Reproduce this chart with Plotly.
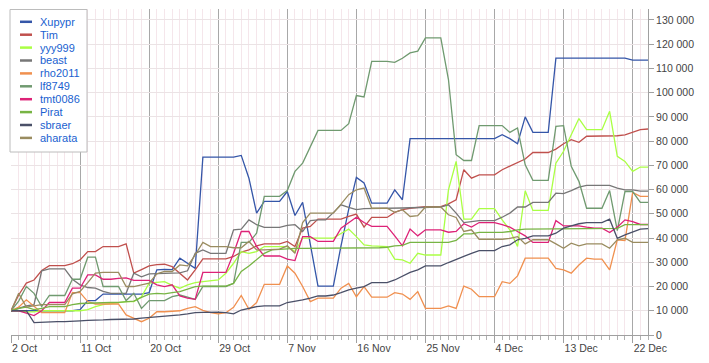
import pandas as pd
import plotly.graph_objects as go

# dates: daily from 2 Oct to 24 Dec
dates = pd.date_range("2012-10-02", "2012-12-24", freq="D")

# values in thousands
xupypr = [10,10,10,10,10,10,10,10,10,10.5,
          14.2,14.2,16.9,16.9,16.9,16.9,16.9,16.9,17.5,26.9,
          27.1,27,31.7,29.5,27.5,73.4,73.4,73.4,73.4,73.4,
          74.1,64.7,50.3,55.1,55.1,55.1,59.2,49.3,54.7,37,
          20.2,20.2,20.2,36.8,51.8,65,62.7,54.4,54.4,54.4,
          59.9,55.8,81,81,81,81,81,81,81,81,
          81,81,81,81,82.6,81,78.9,90,83.6,83.6,
          83.6,114.2,114.2,114.2,114.2,114.2,114.2,114.2,114.2,114.2,
          114.2,113.4,113.4,113.4]
tim = [10,16.5,21.4,22.7,26.6,28.6,28.6,28.6,29.4,31,
       34.4,34.4,36.5,36.5,36.5,37.6,25.5,27,28.5,29,
       29.2,28.2,25.5,22.7,26.9,31.4,31.4,31.4,31.4,32.4,
       34.2,35.1,36.8,37.6,37.6,37.6,38.6,36.5,44.1,44.8,
       47.8,47.8,47.8,47.8,48.9,49.9,44.5,48.5,48.5,48.5,
       50.6,51.7,52.3,52.8,53,53,53,54.1,55.8,68.2,
       64.7,66.1,66.1,66.1,68.2,69.6,70.9,72.6,75.3,75.3,
       75.3,76.7,78.9,80.6,79.5,82,82,82,82,82.2,
       82.6,83.6,84.7,85]
yyy999 = [10,10,9.5,9.5,10,10,10,10,10,10,
          10.5,11.7,12.5,13,13.5,13.8,13.8,15.8,21.4,21.8,
          22,20.5,19.3,20.7,21.6,22,22.5,22.7,25.5,29.6,
          34.4,33.7,34.4,36.5,36.5,36.5,36.5,34.4,40,40,
          40,40,40,41.9,43.7,40.6,37.2,36.8,36.5,36.5,
          31.3,31,29.6,33.7,33,33,33,59.9,71.6,47.8,
          47.8,52.1,52.1,52.1,47.5,43.4,36.5,59.5,51.4,51.4,
          51.4,70.9,75.8,82.6,89.3,84.7,84.7,84.7,92.3,73.7,
          71.6,67.5,69.3,69.3]
beast = [10,11,12,12.5,26.5,27.3,27.3,27.3,23,20.7,
         19.6,19.3,18,17.2,17.2,17.2,25.5,24,25.2,25.2,
         25.2,25.5,25.6,26.5,33.7,35.1,33.7,33.7,33.7,43.4,
         43.7,47.5,45.5,44.4,44.4,44.4,45.2,45.5,42.7,47.2,
         47.5,47.5,50.5,53.7,52.7,51.7,52.1,52.1,52.1,52.3,
         52.3,52.4,52.5,52.6,52.8,52.8,52.8,53.7,50.3,46.4,
         46.8,47.2,47.2,47.2,48.6,50.3,52.8,52.8,54.7,54.7,
         54.7,58.5,58.3,59.6,61,61.7,61.7,61.7,61.7,60.6,
         59.9,59.9,59.4,59.4]
rho2011 = [10,11.5,14.5,11.7,9.2,9.2,9.2,9.2,17.5,17.5,
           13.8,12.8,12.8,12.8,12.8,8.3,6.9,5.5,6.9,9.6,
           9.6,9.7,10,11,11.7,10.2,9.2,8.7,9.2,11.4,
           16.3,10.6,13.4,20.9,20.9,20.9,28.5,25.5,20,13.8,
           15.2,15.2,15.2,19.3,21.3,15.8,20,15.6,15.6,15.6,
           17.5,16.9,14.7,17.9,11,11,11,12,11,20.2,
           18.9,15.8,15.8,15.8,22,21.3,24.4,31.7,31.7,31.7,
           31.7,27.5,26.9,25.5,28.9,31.7,31.3,31.3,26.9,39.3,
           39,58.8,57.2,57.2]
lf8749 = [10,14,20,17.2,11.7,16.3,16.3,16.3,23,23,
          32.1,32.1,20,20,20,14.2,17.2,11,14.2,14.2,
          14.2,15.8,16.5,15.6,14.7,20,20,20,20,21.3,
          38.2,38.2,42,57.2,57.2,57.2,59.6,67.5,70.9,77.8,
          84.4,84.4,84.4,84.4,87.2,98.8,98.2,112.9,112.9,112.9,
          112.5,114.2,116.4,117.1,122.6,122.6,122.6,105.4,74.4,72,
          72,86.4,86.4,86.4,86.4,83.6,85.4,70.2,63.8,63.8,
          63.8,86.1,86.4,69.6,63.4,52.3,52.3,52.3,59.6,43.1,
          59.2,59.2,54.7,54.7]
tmt0086 = [10,10,9,8,10,13.4,13.4,13.4,19.3,19.3,
           24.8,24.8,23,23,23.4,23.6,22.5,22.5,22.5,20.7,
           20,20.7,16.1,15.2,14.7,25.8,25.8,25.8,25.8,33.7,
           42.7,42.7,36.5,32.6,32.6,32.6,31.3,30.7,40.6,40.6,
           38.6,38.6,38.6,44.1,46.5,48.6,46.4,44.8,44.8,44.8,
           40.9,36.8,43.7,40.9,43.4,43.4,43.4,42.4,42.7,45.9,
           44.5,46.4,46.4,46.4,45.5,44.5,42.7,40.9,38.2,38.2,
           38.2,47.2,45,45,45,44.5,44.1,44.1,42.3,44.5,
           47.5,46.8,45.6,45.6]
pirat = [10,11,11.5,10.5,11,11.7,11.7,11.7,12.5,13,
         13.1,13.3,13.5,13.5,13.5,13.8,14,15.5,16.9,17.2,
         17,17.5,17.9,18.9,20,20.2,20.2,20.2,20.2,21.3,
         26.2,28.5,31,33.7,35.1,35.4,35.7,35.7,35.7,35.7,
         35.7,35.7,35.7,35.7,35.7,35.7,35.7,35.7,36,36.2,
         36.8,37,38.2,38.2,38.2,38.2,38.2,38.2,39,41.7,
         41.7,42.3,42.3,42.3,42.3,42.7,43.4,43.7,43.7,43.7,
         43.7,43.7,43.7,43.7,43.7,44,44,44,44,44,
         45.5,45.5,45.5,45.5]
sbraer = [10,10,10,5.1,5.3,5.5,5.5,5.5,5.5,5.8,
          6,6,6.2,6.4,6.4,6.4,6.6,7,7.2,7.4,
          7.6,7.9,8.3,8.7,9.2,9.3,9.5,9.4,9.2,8.7,
          10.3,11,11.7,12,12,12,13.4,13.8,14.5,15.2,
          16.1,16.1,16.5,17.5,18.6,19.3,20,21.6,21.6,21.6,
          22.7,24.4,25.8,26.9,28.5,28.5,28.5,29.9,31.3,32.4,
          33.7,34.8,34.8,34.8,36.5,37.2,39.3,39.9,40.9,40.9,
          40.9,42,44.1,45,45.9,46.4,46.4,46.4,47.8,39.9,
          41.3,42.4,43.7,43.9]
aharata = [10,17.2,11.5,12,12.5,12.5,12.5,12.5,17,18,
           21.6,25.5,25.8,25.8,25.8,20,20,20.7,21.4,25.2,
           26.2,26.2,28.9,28.5,33,38.2,36.5,36.5,36.5,36,
           36,38.6,35.1,35.1,35.1,35.4,36.8,33.7,46.4,50.3,
           50.3,50.3,50.3,54,57.9,59.9,60.6,52.3,52.3,52.3,
           50.6,51.7,48.9,49.2,52.8,52.8,52.8,49.6,48.5,42.7,
           43.4,39.5,39.5,39.5,39.5,39.9,40.6,37.6,39.3,39.3,
           39.3,37.6,35.8,37.9,36.8,37.6,37.6,37.6,35.8,39.3,
           39.9,38.2,38.2,38.2]

names = ["Xupypr", "Tim", "yyy999", "beast", "rho2011", "lf8749",
         "tmt0086", "Pirat", "sbraer", "aharata"]
series = [xupypr, tim, yyy999, beast, rho2011, lf8749,
          tmt0086, pirat, sbraer, aharata]
colors = ["#3556a8", "#c0504d", "#aaff44", "#777777", "#f0904f", "#709a70",
          "#dd2277", "#77b444", "#4a5068", "#9a8c60"]

# figure geometry (page body adds an 8px offset)
W, H = 701, 355
ML, MR, MT, MB = 3, 61, 1, 28
PW, PH = W - ML - MR, H - MT - MB


def px_x(px):  # figure pixel -> paper x
    return (px - ML) / PW


def px_y(py):  # figure pixel -> paper y
    return (H - MB - py) / PH


fig = go.Figure()
for name, vals, col in zip(names, series, colors):
    fig.add_trace(go.Scatter(
        x=dates, y=[v * 1000 for v in vals], name=name, mode="lines",
        line=dict(color=col, width=1.3), showlegend=False))

# legend box drawn as in the original (compact rows)
shapes = [dict(type="rect", xref="paper", yref="paper",
               x0=px_x(2), x1=px_x(79), y0=px_y(144), y1=px_y(1.5),
               fillcolor="white", line=dict(color="#bcbcbc", width=1),
               layer="above")]
annotations = []
for i, (name, col) in enumerate(zip(names, colors)):
    ry = 13.8 + 12.9 * i
    shapes.append(dict(type="line", xref="paper", yref="paper",
                       x0=px_x(12), x1=px_x(24), y0=px_y(ry), y1=px_y(ry),
                       line=dict(color=col, width=2.5), layer="above"))
    annotations.append(dict(xref="paper", yref="paper", x=px_x(29.5), y=px_y(ry),
                            text=name, showarrow=False, xanchor="left",
                            yanchor="middle",
                            font=dict(size=11, color="#1a5fd0")))

fig.update_layout(
    width=W, height=H,
    margin=dict(l=ML, r=MR, t=MT, b=MB, autoexpand=False),
    paper_bgcolor="white", plot_bgcolor="white",
    separators=". ",
    font=dict(family="Liberation Sans, Arial, sans-serif", size=10.5, color="#444444"),
    showlegend=False,
    shapes=shapes, annotations=annotations,
    xaxis=dict(
        type="date", range=[dates[0], dates[-1]],
        tick0=dates[0], dtick=9 * 86400000, tickformat="%-d %b",
        ticks="outside", ticklen=7, tickcolor="#a0a0a0",
        showgrid=True, gridcolor="#a8a8a8", gridwidth=1,
        showline=True, linecolor="#a0a0a0", linewidth=1,
        ticklabelposition="outside right", ticklabelstandoff=3,
        tickfont=dict(size=10.5, color="#444444"),
        zeroline=False,
        minor=dict(dtick=86400000, ticks="outside", ticklen=4,
                   tickcolor="#b0b0b0", showgrid=True, gridcolor="#f5e6eb"),
    ),
    yaxis=dict(
        side="right", range=[0, 134500], dtick=10000, tick0=0,
        tickformat=",d", ticks="outside", ticklen=5, tickcolor="#a0a0a0",
        showline=True, linecolor="#a0a0a0", linewidth=1,
        showgrid=True, gridcolor="#ebe3e5", zeroline=False,
        tickfont=dict(size=10.5, color="#444444"),
    ),
)

fig.write_html("out.html")
